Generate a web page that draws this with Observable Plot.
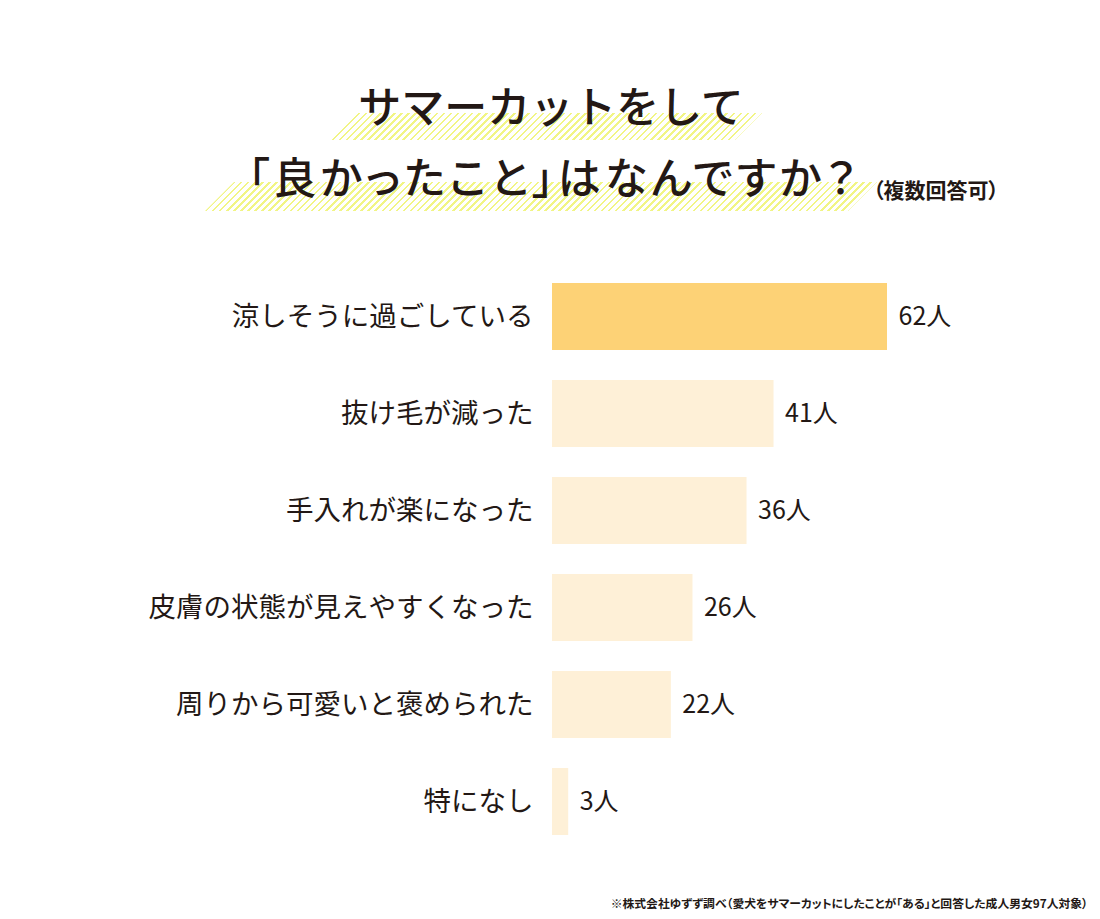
<!DOCTYPE html>
<html>
<head>
<meta charset="utf-8">
<script src="https://cdn.jsdelivr.net/npm/d3@7"></script>
<script src="https://cdn.jsdelivr.net/npm/@observablehq/plot@0.6"></script>
<style>
  html, body { margin: 0; padding: 0; background: #fff; }
  body { width: 1100px; height: 919px; position: relative; overflow: hidden;
         font-family: "Noto Sans CJK JP", "Noto Sans", sans-serif; color: #231815; }
  #head { position: relative; width: 1100px; height: 262px; }
  .hatch { position: absolute;
           background: repeating-linear-gradient(135deg, rgba(240,244,120,0.9) 0 1.8px, transparent 1.8px 5px); }
  .t { position: absolute; white-space: nowrap; font-weight: 500; font-size: 43px; line-height: 1; }
  #t2 { font-feature-settings: "palt"; letter-spacing: 4px; }
  #sub { position: absolute; white-space: nowrap; font-size: 21px; font-weight: 700; line-height: 1; font-feature-settings: "palt"; }
  #note { position: absolute; right: 12px; top: 894px; font-size: 11.8px; font-weight: 700; white-space: nowrap; font-feature-settings: "palt"; }
  #chart { position: absolute; left: 0; top: 262px; }
</style>
</head>
<body>
<div id="head">
  <div class="hatch" style="left:330px; top:113px; width:432px; height:27px; clip-path: polygon(27px 0, 100% 0, calc(100% - 27px) 100%, 0 100%);"></div>
  <div class="hatch" style="left:205px; top:182px; width:672px; height:29px; clip-path: polygon(29px 0, 100% 0, calc(100% - 29px) 100%, 0 100%);"></div>
  <div class="t" id="t1"></div>
  <div class="t" id="t2"></div>
  <div id="sub"></div>
</div>
<div id="chart"></div>
<div id="note"></div>
<script>
const titleLine1 = "サマーカットをして";
const titleLine2 = "「良かったこと」はなんですか？";
const subtitle = "（複数回答可）";
const footnote = "※株式会社ゆずず調べ（愛犬をサマーカットにしたことが「ある」と回答した成人男女97人対象）";

const categories = [
  "涼しそうに過ごしている",
  "抜け毛が減った",
  "手入れが楽になった",
  "皮膚の状態が見えやすくなった",
  "周りから可愛いと褒められた",
  "特になし"
];
const values = [62, 41, 36, 26, 22, 3];
const unit = "人";

const data = categories.map((c, i) => ({category: c, value: values[i]}));

const t1 = document.getElementById("t1");
t1.textContent = titleLine1;
const t2 = document.getElementById("t2");
t2.textContent = titleLine2;
const sub = document.getElementById("sub");
sub.textContent = subtitle;
document.getElementById("note").textContent = footnote;

function center(el, cx, cy) {
  const r = el.getBoundingClientRect();
  el.style.left = (cx - r.width / 2) + "px";
  el.style.top = (cy - r.height / 2) + "px";
}
center(t1, 551, 104);
center(t2, 554, 175);
{
  sub.style.left = "873px";
  const rs = sub.getBoundingClientRect();
  sub.style.top = (189 - rs.height / 2) + "px";
}

const topColor = "#fdd276";
const restColor = "#fef0d7";

const chart = Plot.plot({
  width: 1100,
  height: 610,
  marginLeft: 552,
  marginRight: 213,
  marginTop: 5,
  marginBottom: 21,
  style: { fontFamily: "'Noto Sans CJK JP', sans-serif", color: "#231815", background: "transparent" },
  x: { domain: [0, 62], axis: null },
  y: { domain: categories, paddingInner: 0.306, paddingOuter: 0.153, label: null },
  marks: [
    Plot.barX(data, { x: "value", y: "category", fill: d => d.category === categories[0] ? topColor : restColor }),
    Plot.axisY({ tickSize: 0, tickPadding: 19, fontSize: 27.5, label: null }),
    Plot.text(data, { x: "value", y: "category", text: d => d.value + unit, dx: 11, textAnchor: "start", fontSize: 25, fill: "#231815" })
  ]
});
document.getElementById("chart").appendChild(chart);
</script>
</body>
</html>
